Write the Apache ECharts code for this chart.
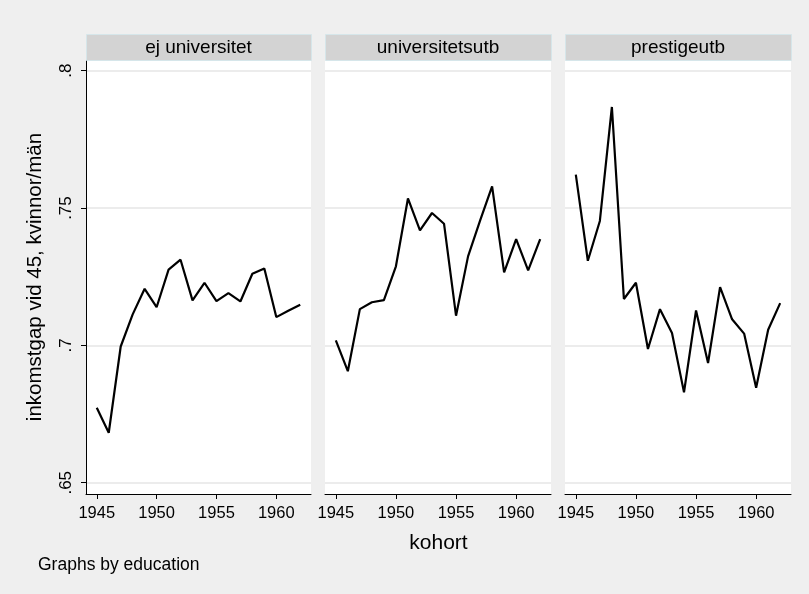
<!DOCTYPE html>
<html>
<head>
<meta charset="utf-8">
<script src="https://cdn.jsdelivr.net/npm/echarts@6/dist/echarts.min.js"></script>
<style>html,body{margin:0;padding:0;background:#efefef;}#c{width:809px;height:594px;}</style>
</head>
<body>
<div id="c"></div>
<script>
const years = [1945,1946,1947,1948,1949,1950,1951,1952,1953,1954,1955,1956,1957,1958,1959,1960,1961,1962];
const panels = ['ej universitet','universitetsutb','prestigeutb'];
const ejUniversitet = [0.6773,0.6682,0.6996,0.7113,0.7206,0.7139,0.7276,0.7312,0.7164,0.7228,0.7161,0.7190,0.7160,0.7261,0.7280,0.7103,0.7126,0.7148];
const universitetsutb = [0.7018,0.6906,0.7132,0.7157,0.7165,0.7288,0.7535,0.7419,0.7482,0.7443,0.7108,0.7324,0.7454,0.7579,0.7266,0.7387,0.7273,0.7387];
const prestigeutb = [0.7622,0.7308,0.7453,0.7868,0.7169,0.7228,0.6987,0.7132,0.7045,0.6829,0.7127,0.6936,0.7212,0.7095,0.7043,0.6846,0.7057,0.7154];
const xTicks = [1945,1950,1955,1960];
const yTicks = [0.65,0.7,0.75,0.8];
const yTickLabels = ['.65','.7','.75','.8'];
const yTitle = 'inkomstgap vid 45, kvinnor/män';
const xTitle = 'kohort';
const note = 'Graphs by education';

const seriesData = [ejUniversitet, universitetsutb, prestigeutb];
const FONT = 'Liberation Sans, Arial, sans-serif';
const grids = [
  {left: 86, width: 225, top: 60, bottom: 100},
  {left: 325, width: 226, top: 60, bottom: 100},
  {left: 565, width: 226, top: 60, bottom: 100}
];

const chart = echarts.init(document.getElementById('c'), null, {renderer: 'canvas'});
const option = {
  backgroundColor: '#efefef',
  animation: false,
  grid: grids.map(g => Object.assign({show: true, backgroundColor: '#ffffff', borderWidth: 0}, g)),
  xAxis: grids.map((g, i) => ({
    type: 'value', gridIndex: i, min: 1944.1, max: 1962.9,
    axisLine: {show: true, onZero: false, lineStyle: {color: '#000', width: 1}},
    axisTick: {show: true, length: 5, customValues: xTicks, lineStyle: {color: '#000'}},
    axisLabel: {show: true, customValues: xTicks, color: '#000', fontSize: 16.5, fontFamily: FONT, margin: 11,
      formatter: v => String(Math.round(v))},
    splitLine: {show: false}
  })),
  yAxis: grids.map((g, i) => ({
    type: 'value', gridIndex: i, min: 0.6459, max: 0.8039,
    name: i === 0 ? yTitle : '', nameLocation: 'middle', nameRotate: 90, nameGap: 40,
    nameTextStyle: {color: '#000', fontSize: 20.5, fontFamily: FONT},
    axisLine: {show: i === 0, lineStyle: {color: '#000', width: 1}},
    axisTick: {show: i === 0, length: 5, customValues: yTicks, lineStyle: {color: '#000'}},
    axisLabel: {show: i === 0, customValues: yTicks, rotate: 90, color: '#000', fontSize: 17, fontFamily: FONT, margin: 11,
      formatter: v => { const k = yTicks.findIndex(t => Math.abs(t - v) < 1e-9); return k >= 0 ? yTickLabels[k] : ''; }},
    splitLine: {show: true, lineStyle: {color: '#e6e6e6', width: 1.5}}
  })),
  series: seriesData.map((d, i) => ({
    type: 'line', xAxisIndex: i, yAxisIndex: i,
    data: years.map((y, k) => [y, d[k]]),
    showSymbol: false, symbol: 'none',
    lineStyle: {color: '#000', width: 2.2},
    z: 5
  })),
  graphic: [
    ...grids.map((g, i) => ({
      type: 'rect', left: g.left, top: 34, shape: {width: g.width, height: 26},
      style: {fill: '#d3d3d3', stroke: '#d6e6ea', lineWidth: 1},
      z: 10
    })),
    ...grids.map((g, i) => ({
      type: 'text', x: g.left + g.width / 2, y: 47.5,
      style: {text: panels[i], fill: '#000', font: '19px ' + FONT, align: 'center', verticalAlign: 'middle'},
      z: 11
    })),
    {type: 'text', x: 438.5, y: 543, style: {text: xTitle, fill: '#000', font: '21px ' + FONT, align: 'center', verticalAlign: 'middle'}},
    {type: 'text', x: 38, y: 565, style: {text: note, fill: '#000', font: '17.5px ' + FONT, align: 'left', verticalAlign: 'middle'}}
  ]
};
chart.setOption(option);
</script>
</body>
</html>
